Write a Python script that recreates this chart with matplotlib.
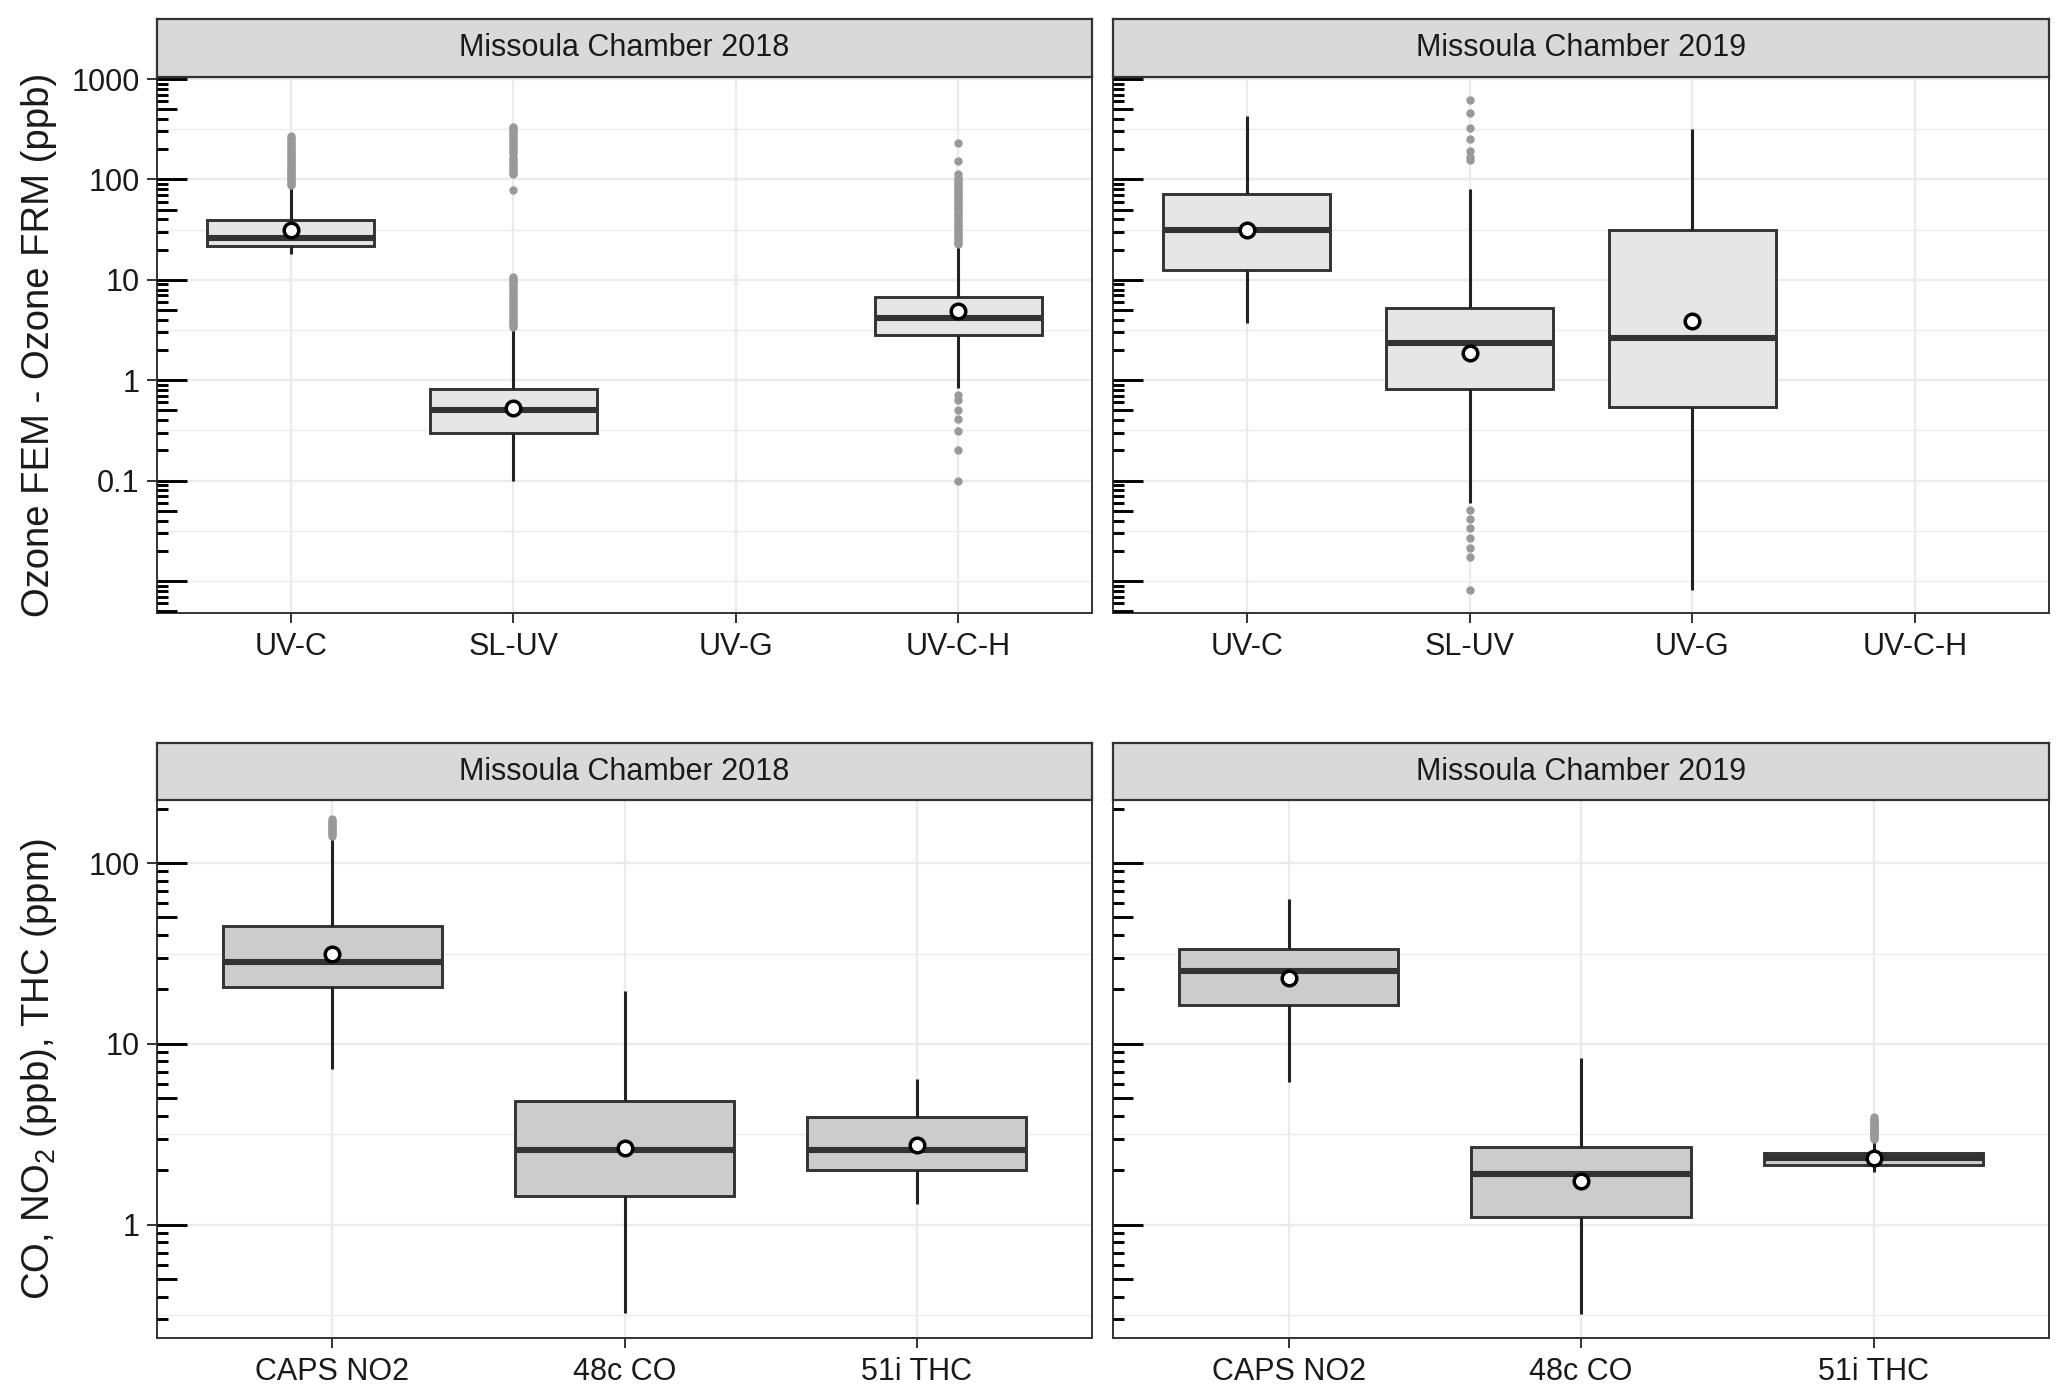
import numpy as np
import matplotlib
matplotlib.use("Agg")
import matplotlib.pyplot as plt
from matplotlib.ticker import FixedLocator, LogLocator, NullLocator, NullFormatter, FixedFormatter

plt.rcParams['font.family'] = ['Liberation Sans', 'DejaVu Sans']
plt.rcParams['mathtext.fontset'] = 'custom'
plt.rcParams['mathtext.rm'] = 'Liberation Sans'
plt.rcParams['mathtext.default'] = 'regular'

nan = np.nan

# ---------------- data ----------------
facet_titles = ['Missoula Chamber 2018', 'Missoula Chamber 2019']
ozone_categories = ['UV-C', 'SL-UV', 'UV-G', 'UV-C-H']
gas_categories = ['CAPS NO2', '48c CO', '51i THC']

ozone_ylabel = 'Ozone FEM - Ozone FRM (ppb)'
gas_ylabel = 'CO, NO$_2$ (ppb), THC (ppm)'

ozone_breaks = [0.1, 1, 10, 100, 1000]
ozone_break_labels = ['0.1', '1', '10', '100', '1000']
ozone_minor_breaks = [0.01, 0.0316, 0.316, 3.16, 31.6, 316]
gas_breaks = [1, 10, 100]
gas_break_labels = ['1', '10', '100']
gas_minor_breaks = [0.316, 3.16, 31.6]

# Ozone 2018
oz2018_q1 = [21.8, 0.30, nan, 2.85]
oz2018_med = [25.9, 0.50, nan, 4.15]
oz2018_q3 = [39.0, 0.815, nan, 6.7]
oz2018_lo = [18.1, 0.10, nan, 0.83]
oz2018_hi = [85.0, 3.35, nan, 22.4]
oz2018_mean = [31.1, 0.53, nan, 4.9]
oz2018_fliers = [
    [88, 91, 94, 97, 100, 103, 107, 111, 115, 119, 123, 128, 133, 138, 143,
     149, 155, 161, 167, 174, 181, 188, 196, 204, 212, 221, 230, 240, 250,
     260, 270],
    [3.42, 3.55, 3.7, 3.85, 4.0, 4.2, 4.4, 4.6, 4.8, 5.0, 5.25, 5.5, 5.75,
     6.0, 6.3, 6.6, 6.9, 7.25, 7.6, 8.0, 8.4, 8.8, 9.2, 9.7, 10.2, 10.7,
     78, 112, 117, 122, 128, 134, 140, 146, 152, 158, 164,
     181, 189, 197, 206, 215, 225, 236, 247, 258, 270, 283, 296, 310, 325, 333],
    [],
    [22.6, 23.5, 24.5, 25.5, 26.6, 27.7, 28.9, 30.1, 31.4, 32.7, 34.1, 35.5,
     37.0, 38.6, 40.2, 41.9, 43.7, 45.5, 47.4, 49.4, 51.5, 53.7, 56.0, 58.4,
     60.9, 63.5, 66.2, 69.0, 72.0, 75.0, 78.2, 81.5, 85.0, 88.6, 92.4, 96.3,
     100, 104, 112, 152, 231,
     0.72, 0.63, 0.51, 0.41, 0.31, 0.2, 0.1],
]

# Ozone 2019
oz2019_q1 = [12.4, 0.815, 0.547, nan]
oz2019_med = [31.5, 2.34, 2.64, nan]
oz2019_q3 = [71.3, 5.25, 31.1, nan]
oz2019_lo = [3.7, 0.06, 0.0082, nan]
oz2019_hi = [432, 79.8, 318, nan]
oz2019_mean = [31.0, 1.87, 3.9, nan]
oz2019_fliers = [
    [],
    [618, 455, 328, 251, 194, 168, 155,
     0.0514, 0.0419, 0.0334, 0.0266, 0.0212, 0.0173, 0.0082],
    [],
    [],
]

# Gases 2018
gas2018_q1 = [20.7, 1.45, 2.0]
gas2018_med = [28.5, 2.59, 2.59]
gas2018_q3 = [44.8, 4.85, 3.93]
gas2018_lo = [7.27, 0.325, 1.3]
gas2018_hi = [139, 19.6, 6.37]
gas2018_mean = [31.6, 2.67, 2.76]
gas2018_fliers = [
    [141, 144, 147, 150, 153, 156, 159, 162, 165, 168, 171, 175],
    [],
    [],
]

# Gases 2019
gas2019_q1 = [16.5, 1.11, 2.13]
gas2019_med = [25.2, 1.90, 2.35]
gas2019_q3 = [33.3, 2.68, 2.49]
gas2019_lo = [6.2, 0.32, 1.96]
gas2019_hi = [63.4, 8.38, 2.95]
gas2019_mean = [23.2, 1.75, 2.35]
gas2019_fliers = [
    [],
    [],
    [3.0, 3.04, 3.08, 3.12, 3.16, 3.2, 3.25, 3.3, 3.35, 3.4, 3.45, 3.5,
     3.56, 3.62, 3.68, 3.74, 3.8, 3.87, 3.95],
]

ozone_ylim = (0.0048, 1047)
gas_ylim = (0.237, 223)

# ---------------- styling ----------------
W, H = 2067, 1397
DPI = 100
fig = plt.figure(figsize=(W / DPI, H / DPI), dpi=DPI)
fig.patch.set_facecolor('white')

DARK = '#333333'
GRID = '#EBEBEB'
STRIP = '#D9D9D9'
TICK_FS = 22
STRIP_FS = 22
YLAB_FS = 27.5


def px_rect(x0, y0_top, x1, y1_bottom):
    return [x0 / W, 1 - y1_bottom / H, (x1 - x0) / W, (y1_bottom - y0_top) / H]


cols = [(157, 1092), (1113, 2049)]
rows = [dict(strip=(19, 77), ax=(77, 613)), dict(strip=(743, 800), ax=(800, 1338))]


def make_stats(q1, med, q3, lo, hi, mean, fliers):
    stats, pos = [], []
    for i in range(len(q1)):
        if np.isnan(q1[i]):
            continue
        stats.append(dict(q1=q1[i], med=med[i], q3=q3[i], whislo=lo[i],
                          whishi=hi[i], mean=mean[i], fliers=np.array(fliers[i])))
        pos.append(i + 1)
    return stats, pos


def draw_panel(ax, sax, cats, stats, pos, fill, ylim, breaks, blabels, minor, title, first_col):
    ax.set_yscale('log')
    ax.set_ylim(*ylim)
    n = len(cats)
    ax.set_xlim(0.4, n + 0.6)
    ax.set_facecolor('white')

    ax.bxp(stats, positions=pos, widths=0.75, patch_artist=True,
           showmeans=True, showcaps=False, showfliers=True,
           boxprops=dict(facecolor=fill, edgecolor=DARK, linewidth=2.1),
           whiskerprops=dict(color='#222222', linewidth=2.2, solid_capstyle='butt'),
           medianprops=dict(color=DARK, linewidth=4.4, solid_capstyle='butt'),
           flierprops=dict(marker='o', markerfacecolor='#999999',
                           markeredgecolor='none', markersize=6),
           meanprops=dict(marker='o', markerfacecolor='white',
                          markeredgecolor='black', markersize=10.5,
                          markeredgewidth=2.5),
           zorder=3)

    # x axis
    ax.xaxis.set_major_locator(FixedLocator(range(1, n + 1)))
    ax.xaxis.set_major_formatter(FixedFormatter(cats))
    ax.tick_params(axis='x', direction='out', length=7.5, width=1.4, color=DARK,
                   labelsize=TICK_FS, labelcolor='#1a1a1a', pad=6)
    ax.grid(axis='x', which='major', color=GRID, linewidth=1.7, zorder=0)

    # y axis (labels + major ticks only on first column)
    ax.yaxis.set_major_locator(FixedLocator(breaks))
    ax.yaxis.set_minor_locator(FixedLocator(minor))
    ax.yaxis.set_minor_formatter(NullFormatter())
    if first_col:
        ax.yaxis.set_major_formatter(FixedFormatter(blabels))
        ax.tick_params(axis='y', which='major', direction='out', length=7.5,
                       width=1.4, color=DARK, labelsize=TICK_FS,
                       labelcolor='#1a1a1a', pad=5)
    else:
        ax.yaxis.set_major_formatter(NullFormatter())
        ax.tick_params(axis='y', which='major', length=0, labelleft=False)
    ax.tick_params(axis='y', which='minor', length=0)
    ax.grid(axis='y', which='major', color=GRID, linewidth=1.7, zorder=0)
    ax.grid(axis='y', which='minor', color=GRID, linewidth=1.0, zorder=0)
    ax.set_axisbelow(True)

    for s in ax.spines.values():
        s.set_color(DARK)
        s.set_linewidth(1.4)

    # annotation log ticks (inside, left)
    sec1 = ax.secondary_yaxis('left')
    sec1.set_zorder(10)
    sec1.yaxis.set_major_locator(LogLocator(base=10, subs=(1.0,), numticks=50))
    sec1.yaxis.set_minor_locator(LogLocator(base=10, subs=(2, 3, 4, 6, 7, 8, 9), numticks=50))
    sec1.yaxis.set_major_formatter(NullFormatter())
    sec1.yaxis.set_minor_formatter(NullFormatter())
    sec1.tick_params(which='major', direction='in', length=21.5, width=2.1, color='black')
    sec1.tick_params(which='minor', direction='in', length=7.7, width=2.1, color='black')
    sec1.spines['left'].set_visible(False)

    sec2 = ax.secondary_yaxis('left')
    sec2.set_zorder(10)
    sec2.yaxis.set_major_locator(LogLocator(base=10, subs=(5.0,), numticks=50))
    sec2.yaxis.set_minor_locator(NullLocator())
    sec2.yaxis.set_major_formatter(NullFormatter())
    sec2.tick_params(which='major', direction='in', length=14.4, width=2.1, color='black')
    sec2.spines['left'].set_visible(False)

    # strip
    sax.set_facecolor(STRIP)
    sax.set_xticks([])
    sax.set_yticks([])
    for s in sax.spines.values():
        s.set_color(DARK)
        s.set_linewidth(1.6)
    sax.text(0.5, 0.5, title, transform=sax.transAxes, ha='center', va='center',
             fontsize=STRIP_FS, color='#1a1a1a')


panel_specs = [
    # row 0: ozone
    [
        (ozone_categories, make_stats(oz2018_q1, oz2018_med, oz2018_q3, oz2018_lo,
                                      oz2018_hi, oz2018_mean, oz2018_fliers), '#E6E6E6',
         ozone_ylim, ozone_breaks, ozone_break_labels, ozone_minor_breaks, facet_titles[0]),
        (ozone_categories, make_stats(oz2019_q1, oz2019_med, oz2019_q3, oz2019_lo,
                                      oz2019_hi, oz2019_mean, oz2019_fliers), '#E6E6E6',
         ozone_ylim, ozone_breaks, ozone_break_labels, ozone_minor_breaks, facet_titles[1]),
    ],
    # row 1: gases
    [
        (gas_categories, make_stats(gas2018_q1, gas2018_med, gas2018_q3, gas2018_lo,
                                    gas2018_hi, gas2018_mean, gas2018_fliers), '#CCCCCC',
         gas_ylim, gas_breaks, gas_break_labels, gas_minor_breaks, facet_titles[0]),
        (gas_categories, make_stats(gas2019_q1, gas2019_med, gas2019_q3, gas2019_lo,
                                    gas2019_hi, gas2019_mean, gas2019_fliers), '#CCCCCC',
         gas_ylim, gas_breaks, gas_break_labels, gas_minor_breaks, facet_titles[1]),
    ],
]

ylabels = [ozone_ylabel, gas_ylabel]

for r, row in enumerate(rows):
    for c, (x0, x1) in enumerate(cols):
        cats, (stats, pos), fill, ylim, breaks, blabels, minor, title = panel_specs[r][c]
        ax = fig.add_axes(px_rect(x0, row['ax'][0], x1, row['ax'][1]))
        sax = fig.add_axes(px_rect(x0, row['strip'][0], x1, row['strip'][1]))
        draw_panel(ax, sax, cats, stats, pos, fill, ylim, breaks, blabels, minor, title, c == 0)
    ymid = (row['ax'][0] + row['ax'][1]) / 2
    fig.text(39 / W, 1 - ymid / H, ylabels[r], rotation=90, ha='center', va='center',
             fontsize=YLAB_FS, color='#1a1a1a')

fig.savefig('out.png', dpi=DPI, facecolor='white')
